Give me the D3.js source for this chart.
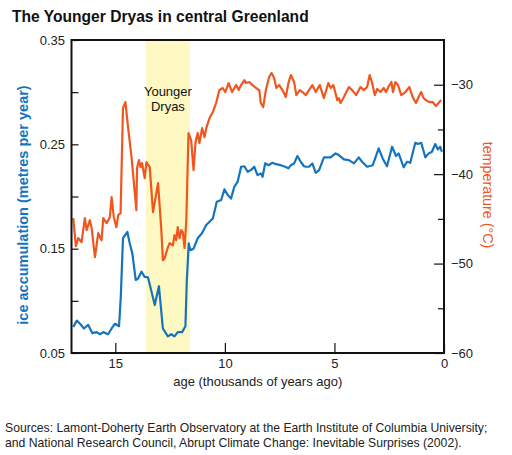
<!DOCTYPE html>
<html>
<head>
<meta charset="utf-8">
<script src="https://cdn.jsdelivr.net/npm/d3@7"></script>
<style>
  body { margin: 0; background: #fff; }
  svg { display: block; font-family: "Liberation Sans", Arial, Helvetica, sans-serif; }
</style>
</head>
<body>
<svg id="chart" width="512" height="455"></svg>
<script>
// ice accumulation (blue)
var iceAge = [16.92,16.76,16.61,16.43,16.24,16.05,15.85,15.70,15.55,15.33,15.17,15.02,14.83,14.75,14.65,14.45,14.34,14.22,14.07,13.96,
  13.81,13.66,13.51,13.20,13.01,12.83,12.60,12.45,12.30,12.15,11.95,11.80,11.74,11.65,11.58,11.43,11.24,11.04,10.85,10.55,
  10.37,10.17,10.02,9.87,9.72,9.57,9.42,9.26,9.11,8.96,8.81,8.66,8.51,8.35,8.28,8.16,8.01,7.83,7.67,7.45,
  7.25,7.10,6.99,6.84,6.69,6.54,6.39,6.31,6.16,6.01,5.85,5.70,5.48,5.17,4.95,4.80,4.57,4.34,4.11,3.89,
  3.74,3.51,3.25,2.98,2.80,2.60,2.37,2.19,2.07,1.84,1.69,1.54,1.31,1.19,1.04,0.85,0.70,0.55,0.40,0.28,0.17,0.10];
var iceAcc = [0.075,0.081,0.078,0.0735,0.077,0.069,0.070,0.068,0.070,0.068,0.0735,0.078,0.0757,0.104,0.160,0.166,0.155,0.145,0.120,0.1214,
  0.128,0.123,0.1225,0.096,0.114,0.0735,0.066,0.068,0.066,0.070,0.070,0.0757,0.118,0.155,0.1486,0.150,0.160,0.165,0.1726,0.179,
  0.195,0.1966,0.2068,0.2014,0.198,0.2093,0.214,0.2285,0.229,0.2237,0.2253,0.2285,0.2205,0.222,0.2189,0.2318,0.230,0.2323,0.231,0.230,
  0.2285,0.227,0.230,0.2317,0.2388,0.2333,0.229,0.2285,0.2285,0.2317,0.2227,0.2253,0.2375,0.2375,0.2413,0.2397,0.2356,0.2349,0.2317,0.2375,
  0.2333,0.2285,0.230,0.2461,0.2365,0.229,0.2477,0.2388,0.2413,0.228,0.2333,0.2323,0.2515,0.2503,0.2515,0.2375,0.2413,0.2429,0.2503,0.245,0.2477,0.2429];

// temperature (orange)
var tempAge = [16.92,16.80,16.69,16.54,16.39,16.31,16.16,16.08,15.93,15.78,15.63,15.55,15.40,15.25,15.17,15.07,14.95,14.87,14.76,14.65,
  14.54,14.42,14.26,14.04,14.01,13.92,13.85,13.78,13.66,13.58,13.43,13.28,13.05,12.90,12.83,12.75,12.60,12.52,12.37,12.30,
  12.22,12.15,12.07,11.99,11.92,11.84,11.76,11.66,11.54,11.43,11.34,11.24,11.16,11.04,10.93,10.85,10.70,10.55,10.40,10.25,
  10.10,9.98,9.83,9.67,9.49,9.37,9.26,9.11,9.04,8.89,8.74,8.58,8.43,8.36,8.25,8.13,7.98,7.87,7.75,7.65,
  7.52,7.37,7.22,7.10,6.99,6.84,6.74,6.58,6.46,6.31,6.16,6.01,5.85,5.67,5.48,5.28,5.17,5.05,4.87,4.80,
  4.72,4.57,4.34,4.19,4.01,3.81,3.66,3.51,3.39,3.28,3.16,3.05,2.90,2.75,2.65,2.49,2.40,2.33,2.22,2.10,
  1.95,1.76,1.58,1.43,1.28,1.16,1.04,0.93,0.83,0.67,0.52,0.37,0.25,0.13];
var tempC = [-44.92,-48.06,-47.16,-47.61,-44.92,-46.27,-45.15,-46.04,-49.29,-46.60,-47.39,-44.92,-45.48,-44.81,-42.57,-44.81,-45.93,-44.59,-44.36,-32.61,
  -31.94,-34.74,-38.10,-44.03,-39.33,-38.43,-39.21,-38.77,-40.45,-38.66,-39.21,-44.25,-41.01,-46.27,-49.62,-49.40,-48.17,-47.72,-47.95,-46.83,
  -47.39,-45.93,-47.16,-46.27,-46.49,-48.28,-45.15,-35.41,-36.19,-39.55,-36.42,-35.41,-36.53,-34.85,-35.86,-34.85,-33.73,-33.06,-32.05,-30.60,
  -30.37,-30.82,-29.81,-30.82,-30.04,-30.60,-30.04,-29.48,-29.81,-29.70,-30.04,-30.37,-30.60,-32.05,-32.50,-30.60,-29.14,-28.69,-29.25,-30.37,
  -30.04,-30.60,-31.38,-29.81,-28.92,-29.70,-31.16,-30.60,-30.82,-31.16,-30.60,-30.04,-30.82,-30.04,-31.49,-29.81,-30.37,-30.04,-31.72,-31.49,
  -32.05,-31.38,-30.26,-30.60,-31.16,-30.26,-30.60,-30.26,-28.92,-29.81,-31.16,-30.48,-30.82,-30.37,-30.82,-30.04,-29.70,-30.82,-29.70,-30.04,
  -31.16,-30.82,-30.26,-31.38,-32.05,-31.38,-30.82,-31.49,-31.72,-31.94,-31.94,-32.38,-32.05,-31.72];

var youngerDryas = [13.6, 11.6];
var accMajor = [0.05, 0.15, 0.25, 0.35];
var accMinor = [0.10, 0.20, 0.30];
var tempMajor = [-60, -50, -40, -30];
var tempMinor = [-55, -45, -35];
var ageTicks = [15, 10, 5, 0];

var BLUE = "#1474bd";
var ORANGE = "#f0561e";

var svg = d3.select("#chart");
var MARGINS = {top: 40, right: 68, bottom: 102, left: 71.5};
var W = 512, H = 455;

var xScale = d3.scaleLinear().domain([17, 0]).range([MARGINS.left, W - MARGINS.right]);
var yAcc = d3.scaleLinear().domain([0.05, 0.35]).range([H - MARGINS.bottom, MARGINS.top]);
var yTemp = d3.scaleLinear().domain([-60, -25]).range([H - MARGINS.bottom, MARGINS.top]);

// title
svg.append("text")
  .attr("x", 12).attr("y", 21.5)
  .attr("font-size", "15.6px").attr("font-weight", "bold")
  .attr("fill", "#111")
  .text("The Younger Dryas in central Greenland");

// shaded period
svg.append("rect")
  .attr("x", xScale(youngerDryas[0]))
  .attr("y", MARGINS.top)
  .attr("width", xScale(youngerDryas[1]) - xScale(youngerDryas[0]))
  .attr("height", yAcc(0.05) - MARGINS.top)
  .attr("fill", "#fef8c2");

var lbl = svg.append("text")
  .attr("text-anchor", "middle")
  .attr("font-size", "13px").attr("fill", "#111");
lbl.append("tspan").attr("x", xScale(12.6)).attr("y", 96).text("Younger");
lbl.append("tspan").attr("x", xScale(12.6)).attr("y", 110.5).text("Dryas");

// axes
function styleAxis(g){
  g.select(".domain").remove();
  g.selectAll("line").attr("stroke", "#111").attr("stroke-width", 1.2);
  g.selectAll("text").attr("font-size", "13px").attr("fill", "#222").attr("font-family", null);
}

svg.append("g")
  .attr("transform", "translate(" + MARGINS.left + ",0)")
  .call(d3.axisLeft(yAcc).tickValues(accMajor).tickSizeInner(-7).tickSizeOuter(0).tickPadding(6.5).tickFormat(d3.format(".2f")))
  .call(styleAxis);
svg.append("g")
  .attr("transform", "translate(" + MARGINS.left + ",0)")
  .call(d3.axisLeft(yAcc).tickValues(accMinor).tickSizeInner(-7).tickSizeOuter(0).tickFormat(""))
  .call(styleAxis);

svg.append("g")
  .attr("transform", "translate(" + (W - MARGINS.right) + ",0)")
  .call(d3.axisRight(yTemp).tickValues(tempMajor).tickSizeInner(-10).tickSizeOuter(0).tickPadding(7).tickFormat(d3.format("d")))
  .call(styleAxis);
svg.append("g")
  .attr("transform", "translate(" + (W - MARGINS.right) + ",0)")
  .call(d3.axisRight(yTemp).tickValues(tempMinor).tickSizeInner(-6).tickSizeOuter(0).tickFormat(""))
  .call(styleAxis);

svg.append("g")
  .attr("transform", "translate(0," + (H - MARGINS.bottom) + ")")
  .call(d3.axisBottom(xScale).tickValues(ageTicks).tickSizeInner(-10).tickSizeOuter(0).tickPadding(5.5).tickFormat(d3.format("d")))
  .call(styleAxis);

// lines
var iceData = iceAge.map(function(a, i){ return {age: a, v: iceAcc[i]}; });
var tempData = tempAge.map(function(a, i){ return {age: a, v: tempC[i]}; });

var iceLine = d3.line().x(function(d){ return xScale(d.age); }).y(function(d){ return yAcc(d.v); });
var tempLine = d3.line().x(function(d){ return xScale(d.age); }).y(function(d){ return yTemp(d.v); });

svg.append("path").attr("d", tempLine(tempData))
  .attr("fill", "none").attr("stroke", ORANGE).attr("stroke-width", 2.2)
  .attr("stroke-linejoin", "round");
svg.append("path").attr("d", iceLine(iceData))
  .attr("fill", "none").attr("stroke", BLUE).attr("stroke-width", 2.2)
  .attr("stroke-linejoin", "round");

// frame
svg.append("rect")
  .attr("x", MARGINS.left).attr("y", MARGINS.top)
  .attr("width", W - MARGINS.right - MARGINS.left)
  .attr("height", H - MARGINS.bottom - MARGINS.top)
  .attr("fill", "none").attr("stroke", "#111").attr("stroke-width", 2);

// axis titles
svg.append("text")
  .attr("text-anchor", "middle")
  .attr("x", (MARGINS.left + W - MARGINS.right) / 2).attr("y", 386)
  .attr("font-size", "13px").attr("fill", "#222")
  .text("age (thousands of years ago)");

svg.append("text")
  .attr("transform", "translate(27.5,205) rotate(-90)")
  .attr("text-anchor", "middle")
  .attr("font-size", "14.5px").attr("font-weight", "bold").attr("fill", BLUE)
  .text("ice accumulation (metres per year)");

svg.append("text")
  .attr("transform", "translate(483,195) rotate(90)")
  .attr("text-anchor", "middle")
  .attr("font-size", "14.3px").attr("fill", ORANGE)
  .text("temperature (°C)");

// sources
var src = svg.append("text").attr("font-size", "12.2px").attr("fill", "#222");
src.append("tspan").attr("x", 5).attr("y", 432)
  .text("Sources: Lamont-Doherty Earth Observatory at the Earth Institute of Columbia University;");
src.append("tspan").attr("x", 5).attr("y", 446.5)
  .text("and National Research Council, Abrupt Climate Change: Inevitable Surprises (2002).");
</script>
</body>
</html>
